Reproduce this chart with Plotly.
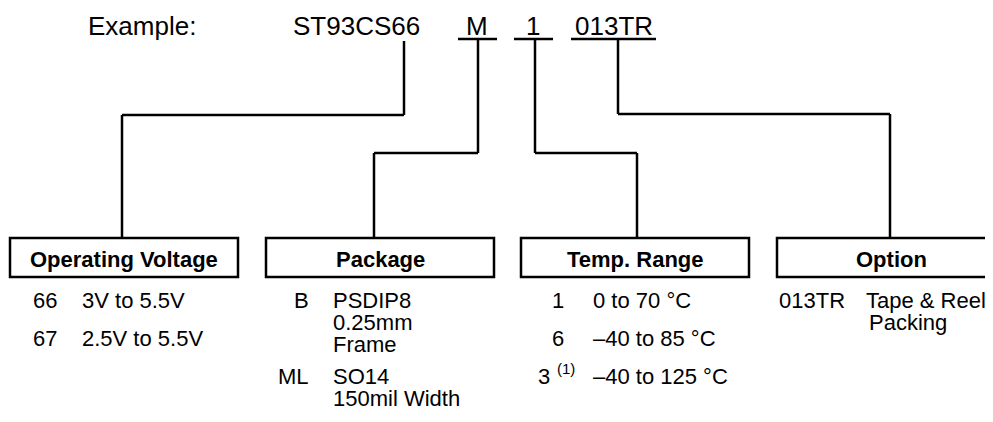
import plotly.graph_objects as go

# ---------------- data (text content) ----------------
example_label = "Example:"
part_base = "ST93CS66"
part_fields = ["M", "1", "013TR"]

box_titles = ["Operating Voltage", "Package", "Temp. Range", "Option"]

voltage_codes = ["66", "67"]
voltage_desc = ["3V to 5.5V", "2.5V to 5.5V"]

package_codes = ["B", "ML"]
package_desc = [["PSDIP8", "0.25mm", "Frame"], ["SO14", "150mil Width"]]

temp_codes = ["1", "6", "3"]
temp_notes = ["", "", "(1)"]
temp_desc = ["0 to 70 °C", "–40 to 85 °C", "–40 to 125 °C"]

option_codes = ["013TR"]
option_desc = [["Tape & Reel", "Packing"]]

# ---------------- layout constants ----------------
W, H = 993, 422
PAGE_OFFSET = 8  # default body margin of the html page
FONT = "Liberation Sans, Arial, Helvetica, sans-serif"
LW = 2.5
HEAD_SIZE = 26
BODY_SIZE = 22

fig = go.Figure()
fig.update_layout(
    width=W - PAGE_OFFSET, height=H - PAGE_OFFSET,
    margin=dict(l=0, r=0, t=0, b=0),
    paper_bgcolor="white", plot_bgcolor="white",
    showlegend=False,
    xaxis=dict(range=[PAGE_OFFSET, W], visible=False, fixedrange=True),
    yaxis=dict(range=[H, PAGE_OFFSET], visible=False, fixedrange=True),
)

shapes = []
annots = []


def line(x0, y0, x1, y1):
    shapes.append(dict(type="line", xref="x", yref="y", x0=x0, y0=y0, x1=x1, y1=y1,
                       line=dict(color="black", width=LW)))


def text(x, y, s, size=BODY_SIZE, anchor="left", bold=False):
    annots.append(dict(x=x, y=y, xref="x", yref="y", text=(f"<b>{s}</b>" if bold else s),
                       showarrow=False, xanchor=anchor, yanchor="middle",
                       font=dict(family=FONT, size=size, color="black"),
                       borderpad=0))


# header
head_y = 25.5
text(87, head_y, example_label, HEAD_SIZE)
text(292, head_y, part_base, HEAD_SIZE)
field_centers = [477, 533, 614]
underlines = [(458, 497), (514, 553), (571, 656)]
for s, cx, (u0, u1) in zip(part_fields, field_centers, underlines):
    text(cx, head_y, s, HEAD_SIZE, anchor="center")
    line(u0, 39, u1, 39)

# connectors
box_left = [10, 266, 521, 777]
box_w = 228
box_top, box_bot = 238, 277
conn = [
    # (top x, top y, elbow y, box x)
    (404, 41, 115, 122),
    (478, 39, 153, 374),
    (535, 39, 153, 637),
    (618, 39, 114, 890),
]
for tx, ty, ey, bx in conn:
    line(tx, ty, tx, ey)
    line(tx, ey, bx, ey)
    line(bx, ey, bx, box_top)

# boxes
for bl, title in zip(box_left, box_titles):
    shapes.append(dict(type="rect", xref="x", yref="y", x0=bl, x1=bl + box_w,
                       y0=box_top, y1=box_bot, line=dict(color="black", width=LW),
                       fillcolor="rgba(0,0,0,0)"))
    text(bl + box_w / 2, 259.5, title, BODY_SIZE, anchor="center", bold=True)

# Operating voltage column
rows3 = [300, 338, 376]
for i, (c, d) in enumerate(zip(voltage_codes, voltage_desc)):
    text(32, rows3[i], c)
    text(81, rows3[i], d)

# Package column
pkg_rows = [[300, 322, 344], [376, 398]]
for c, lines_, ys in zip(package_codes, package_desc, pkg_rows):
    text(310, ys[0], c, anchor="right")
    for s, y in zip(lines_, ys):
        text(332, y, s)

# Temperature column
for i, (c, n, d) in enumerate(zip(temp_codes, temp_notes, temp_desc)):
    if n:
        text(551, rows3[i], c, anchor="right")
        text(556, rows3[i] - 8, n, 15)
    else:
        text(557.5, rows3[i], c, anchor="center")
    text(592, rows3[i], d)

# Option column
for c, lines_ in zip(option_codes, option_desc):
    text(778, 300, c)
    text(865, 300, lines_[0])
    text(868, 322, lines_[1])

fig.update_layout(shapes=shapes, annotations=annots)
fig.write_html("out.html")
